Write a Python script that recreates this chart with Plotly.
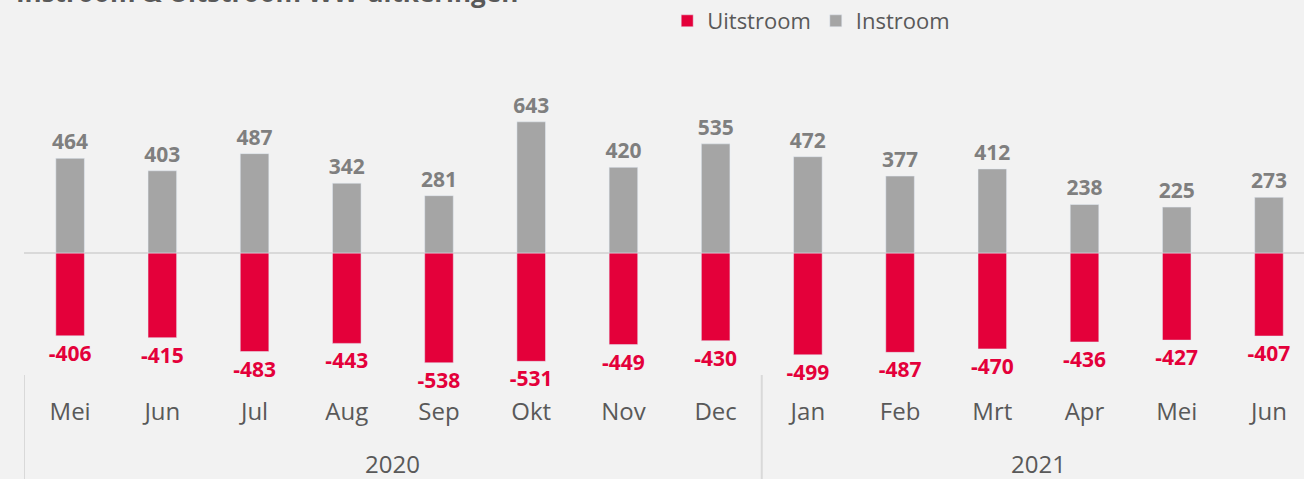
import plotly.graph_objects as go

months = ["Mei", "Jun", "Jul", "Aug", "Sep", "Okt", "Nov", "Dec",
          "Jan", "Feb", "Mrt", "Apr", "Mei", "Jun"]
years = ["2020", "2021"]
year_len = [8, 6]
instroom = [464, 403, 487, 342, 281, 643, 420, 535, 472, 377, 412, 238, 225, 273]
uitstroom = [-406, -415, -483, -443, -538, -531, -449, -430, -499, -487, -470, -436, -427, -407]

RED = "#e4003a"
GREY = "#a5a5a5"
TXT = "#595959"
FONT = "Open Sans"

xs = list(range(len(months)))

fig = go.Figure()
fig.add_trace(go.Bar(
    x=xs, y=uitstroom, name="Uitstroom", marker_color=RED, width=0.31,
    text=uitstroom, textposition="outside", cliponaxis=False, constraintext="none",
    textfont=dict(color=RED, size=21, family=FONT, weight="bold"),
))
fig.add_trace(go.Bar(
    x=xs, y=instroom, name="Instroom", marker_color=GREY, width=0.31,
    text=instroom, textposition="outside", cliponaxis=False, constraintext="none",
    textfont=dict(color="#7f7f7f", size=21, family=FONT, weight="bold"),
))

fig.update_layout(
    width=1304, height=479,
    barmode="overlay",
    paper_bgcolor="#f2f2f2", plot_bgcolor="#f2f2f2",
    margin=dict(l=24, r=0, t=60, b=104),
    font=dict(family=FONT, color=TXT),
    showlegend=True,
    legend=dict(orientation="h", x=0.615, xanchor="center", y=1.0, yref="container",
                yanchor="top", font=dict(size=22, color=TXT), traceorder="normal",
                itemwidth=30),
)
fig.update_xaxes(
    tickmode="array", tickvals=xs, ticktext=months,
    range=[-0.5, 13.38], showgrid=False, zeroline=False, showline=False,
    tickfont=dict(size=24, color=TXT), ticks="", ticklabelstandoff=20,
)
fig.update_yaxes(
    range=[-598, 946], showgrid=False, showticklabels=False,
    zeroline=True, zerolinecolor="#d9d9d9", zerolinewidth=2,
)

# year groups
start = 0
for yr, n in zip(years, year_len):
    fig.add_annotation(x=start + (n - 1) / 2, y=-0.34, xref="x", yref="paper",
                       text=yr, showarrow=False, font=dict(size=24, color=TXT))
    fig.add_shape(type="line", xref="x", yref="paper", x0=start - 0.5, x1=start - 0.5,
                  y0=0, y1=-0.4, line=dict(color="#d9d9d9", width=2))
    start += n

# title, cut off at the top like in the source
fig.add_annotation(x=0, xref="paper", xanchor="left", xshift=-10,
                   y=1, yref="paper", yanchor="bottom", yshift=48,
                   text="<b>Instroom & Uitstroom WW-uitkeringen</b>", showarrow=False,
                   font=dict(size=26, color=TXT))

fig.write_html("out.html", config={"displayModeBar": False},
               post_script="document.body.style.margin='0';")
